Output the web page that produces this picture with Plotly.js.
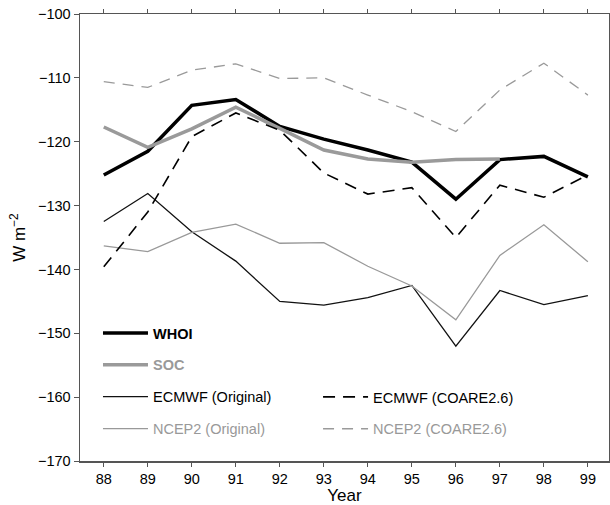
<!DOCTYPE html>
<html>
<head>
<meta charset="utf-8">
<script src="https://cdn.plot.ly/plotly-3.0.1.min.js"></script>
<style>html,body{margin:0;padding:0;background:#fff}#chart{width:610px;height:505px}</style>
</head>
<body>
<div id="chart"></div>
<script>
var years = [88, 89, 90, 91, 92, 93, 94, 95, 96, 97, 98, 99];
var tickLabels = ['88','89','90','91','92','93','94','95','96','97','98','99'];
var whoi = [-125.2, -121.5, -114.3, -113.4, -117.6, -119.6, -121.3, -123.2, -129.0, -122.8, -122.3, -125.5];
var socYears = [88, 89, 90, 91, 92, 93, 94, 95, 96, 97];
var soc = [-117.7, -120.9, -118.0, -114.6, -117.9, -121.3, -122.7, -123.2, -122.8, -122.7];
var ecmwfOrig = [-132.5, -128.1, -134.1, -138.7, -145.0, -145.6, -144.4, -142.5, -152.0, -143.3, -145.5, -144.1];
var ecmwfCoare = [-139.6, -131.0, -119.2, -115.5, -118.2, -124.9, -128.2, -127.2, -135.0, -126.8, -128.7, -125.2];
var ncepOrig = [-136.3, -137.2, -134.2, -132.9, -135.9, -135.8, -139.5, -142.6, -147.9, -137.8, -133.0, -138.8];
var ncepCoare = [-110.6, -111.5, -108.8, -107.8, -110.1, -110.0, -112.7, -115.3, -118.4, -111.9, -107.7, -112.7];

var traces = [
  {x: years, y: whoi, name: '<b>WHOI</b>', mode: 'lines', line: {color: '#000', width: 3.5}, legend: 'legend', legendgroup: 'a'},
  {x: socYears, y: soc, name: '<b><span style="color:#999">SOC</span></b>', mode: 'lines', line: {color: '#9a9a9a', width: 3.5}, legend: 'legend', legendgroup: 'b'},
  {x: years, y: ecmwfOrig, name: 'ECMWF (Original)', mode: 'lines', line: {color: '#111', width: 1.3}, legend: 'legend', legendgroup: 'c'},
  {x: years, y: ncepOrig, name: '<span style="color:#999">NCEP2 (Original)</span>', mode: 'lines', line: {color: '#999', width: 1.3}, legend: 'legend', legendgroup: 'd'},
  {x: years, y: ecmwfCoare, name: 'ECMWF (COARE2.6)', mode: 'lines', line: {color: '#000', width: 1.6, dash: '12px,8px'}, legend: 'legend2', legendgroup: 'e'},
  {x: years, y: ncepCoare, name: '<span style="color:#999">NCEP2 (COARE2.6)</span>', mode: 'lines', line: {color: '#9a9a9a', width: 1.3, dash: '11px,8px'}, legend: 'legend2', legendgroup: 'f'}
];

var font = 'Liberation Sans, Arial, sans-serif';
var layout = {
  width: 610, height: 505,
  margin: {l: 80, r: 1, t: 14, b: 44},
  paper_bgcolor: '#fff', plot_bgcolor: '#fff',
  font: {family: font, size: 14.5, color: '#000'},
  showlegend: true,
  xaxis: {
    range: [87.46, 99.48], tickvals: years, ticktext: tickLabels,
    showgrid: false, zeroline: false, showline: true, linecolor: '#555', linewidth: 1.5,
    mirror: 'ticks', ticks: 'outside', ticklen: 4, tickcolor: '#555', tickwidth: 1,
    tickfont: {size: 14.5}, title: {text: 'Year', font: {size: 17}, standoff: 10}
  },
  yaxis: {
    range: [-170, -100], dtick: 10, tick0: -170,
    showgrid: false, zeroline: false, showline: true, linecolor: '#555', linewidth: 1.5,
    mirror: true, ticks: 'outside', ticklen: 5, tickcolor: '#555', tickwidth: 1,
    tickfont: {size: 14.5}, title: {text: 'W m<sup>\u22122</sup>', font: {size: 17}, standoff: 8}
  },
  legend: {x: 0.034, y: 0.322, xanchor: 'left', yanchor: 'top', bgcolor: 'rgba(0,0,0,0)',
    traceorder: 'grouped', tracegroupgap: 10, itemwidth: 45, font: {size: 14.5}},
  legend2: {x: 0.45, y: 0.179, xanchor: 'left', yanchor: 'top', bgcolor: 'rgba(0,0,0,0)',
    traceorder: 'grouped', tracegroupgap: 10, itemwidth: 45, font: {size: 14.5}}
};
Plotly.newPlot('chart', traces, layout, {displayModeBar: false, staticPlot: true});
</script>
</body>
</html>
